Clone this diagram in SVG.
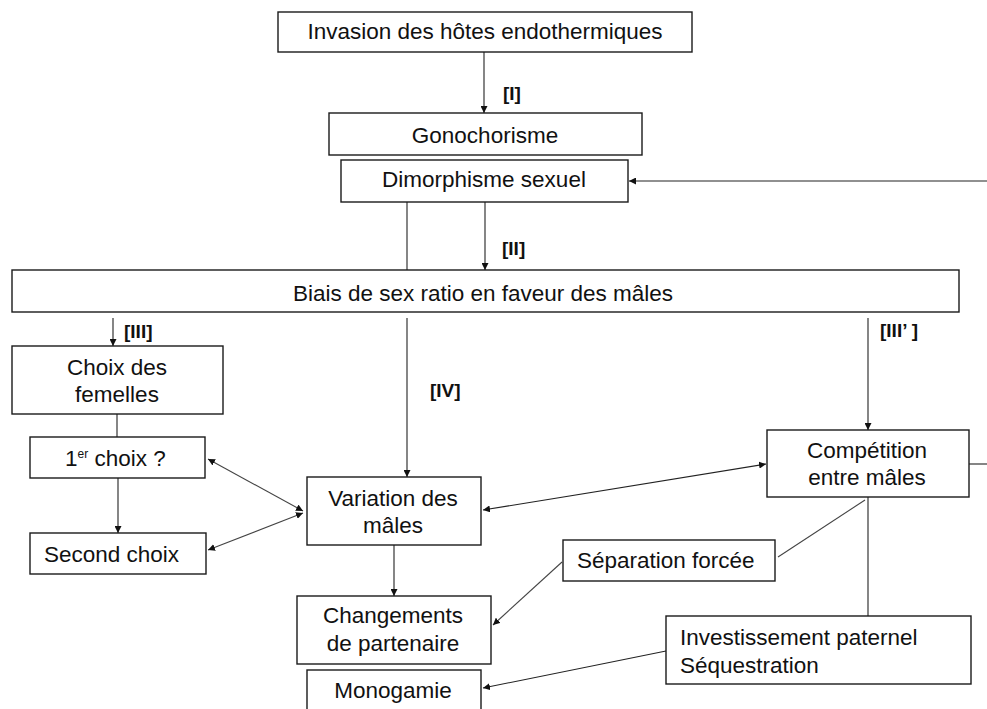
<svg xmlns="http://www.w3.org/2000/svg" width="987" height="709" viewBox="0 0 987 709">
<defs>
<marker id="ah" viewBox="0 0 10 10" refX="10" refY="5" markerWidth="7" markerHeight="7" orient="auto-start-reverse" markerUnits="userSpaceOnUse">
<path d="M0,0 L10,5 L0,10 z" fill="#111"/>
</marker>
<style>
.box{fill:#fff;stroke:#1a1a1a;stroke-width:1.4}
.t{font-family:"Liberation Sans",Arial,sans-serif;font-size:22.5px;fill:#111;text-anchor:middle}
.ts{font-family:"Liberation Sans",Arial,sans-serif;font-size:22.5px;fill:#111}
.lb{font-family:"Liberation Sans",Arial,sans-serif;font-size:19px;font-weight:bold;fill:#111}
.c{stroke:#222;stroke-width:1.1;fill:none}
.d{stroke:#444;stroke-width:1.1;fill:none}
.a{marker-end:url(#ah)}
.aa{marker-end:url(#ah);marker-start:url(#ah)}
</style>
</defs>
<rect width="987" height="709" fill="#fff"/>
<g id="connectors">
<line class="c a" x1="484" y1="52" x2="484" y2="113"/>
<line class="c a" x1="987" y1="181" x2="629" y2="181"/>
<line class="c" x1="407" y1="202" x2="407" y2="270"/>
<line class="c a" x1="485" y1="202" x2="485" y2="270"/>
<line class="c a" x1="113" y1="318" x2="113" y2="346"/>
<line class="c a" x1="407" y1="318" x2="407" y2="477"/>
<line class="c a" x1="868" y1="318" x2="868" y2="430"/>
<line class="c" x1="117" y1="414" x2="117" y2="437"/>
<line class="c a" x1="118" y1="478" x2="118" y2="533"/>
<line class="d aa" x1="208" y1="459" x2="303" y2="511"/>
<line class="d aa" x1="208" y1="550" x2="303" y2="513"/>
<line class="c aa" x1="483" y1="510" x2="766" y2="464"/>
<line class="c a" x1="394" y1="545" x2="394" y2="596"/>
<line class="d" x1="865" y1="500" x2="778" y2="557"/>
<line class="d a" x1="562" y1="562" x2="493" y2="625"/>
<line class="c" x1="868" y1="497" x2="868" y2="616"/>
<line class="c a" x1="666" y1="651" x2="483" y2="688"/>
<line class="c" x1="969" y1="464" x2="987" y2="464"/>
</g>
<g id="invasion"><rect class="box" x="278" y="12" width="414" height="40"/><text class="t" x="485" y="39">Invasion des hôtes endothermiques</text></g>
<g id="label-I"><text class="lb" x="503" y="100">[I]</text></g>
<g id="gonochorisme"><rect class="box" x="329" y="113" width="313" height="42"/><text class="t" x="485" y="143">Gonochorisme</text></g>
<g id="dimorphisme"><rect class="box" x="341" y="160" width="287" height="42"/><text class="t" x="484" y="187">Dimorphisme sexuel</text></g>
<g id="label-II"><text class="lb" x="502" y="255">[II]</text></g>
<g id="biais"><rect class="box" x="12" y="270" width="947" height="42"/><text class="t" x="483" y="301">Biais de sex ratio en faveur des mâles</text></g>
<g id="label-III"><text class="lb" x="124" y="338">[III]</text></g>
<g id="label-IIIp"><text class="lb" x="880" y="337">[III’ ]</text></g>
<g id="label-IV"><text class="lb" x="430" y="397">[IV]</text></g>
<g id="choix-femelles"><rect class="box" x="12" y="346" width="211" height="68"/><text class="t" x="117" y="375">Choix des</text><text class="t" x="117" y="402">femelles</text></g>
<g id="premier-choix"><rect class="box" x="30" y="437" width="175" height="41"/><text class="ts" x="65" y="466">1<tspan font-size="12" dy="-8">er</tspan><tspan dy="8"> choix ?</tspan></text></g>
<g id="second-choix"><rect class="box" x="30" y="533" width="176" height="41"/><text class="ts" x="44" y="562">Second choix</text></g>
<g id="variation"><rect class="box" x="307" y="477" width="174" height="68"/><text class="t" x="393" y="506">Variation des</text><text class="t" x="393" y="533">mâles</text></g>
<g id="competition"><rect class="box" x="767" y="430" width="202" height="67"/><text class="t" x="867" y="458">Compétition</text><text class="t" x="867" y="485">entre mâles</text></g>
<g id="separation"><rect class="box" x="563" y="540" width="212" height="41"/><text class="ts" x="577" y="568">Séparation forcée</text></g>
<g id="changements"><rect class="box" x="297" y="596" width="194" height="68"/><text class="t" x="393" y="623">Changements</text><text class="t" x="393" y="651">de partenaire</text></g>
<g id="investissement"><rect class="box" x="666" y="616" width="305" height="68"/><text class="ts" x="680" y="645">Investissement paternel</text><text class="ts" x="680" y="673">Séquestration</text></g>
<g id="monogamie"><rect class="box" x="307" y="670" width="174" height="50"/><text class="t" x="393" y="698">Monogamie</text></g>
</svg>
